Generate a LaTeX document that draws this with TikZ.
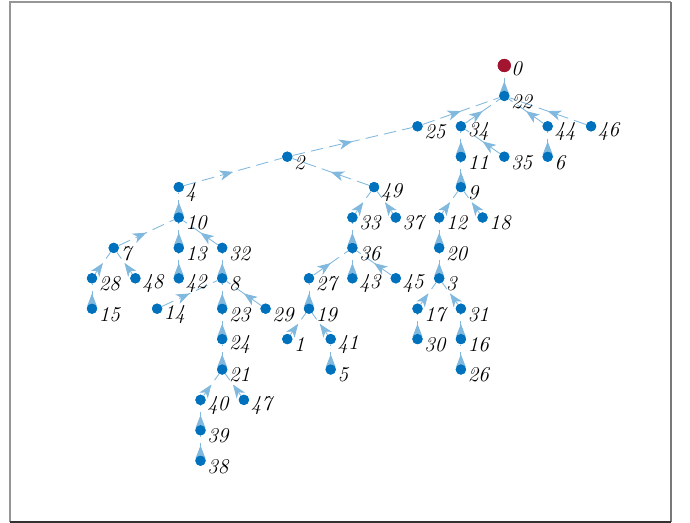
\documentclass[tikz,border=0pt]{standalone}
\usetikzlibrary{arrows.meta,decorations.markings}
\definecolor{nodeblue}{RGB}{0,114,189}
\definecolor{rootred}{RGB}{162,20,47}
\definecolor{edgeblue}{RGB}{128,184,222}
\definecolor{framegray}{RGB}{150,150,150}
\definecolor{framedark}{RGB}{50,50,50}
\tikzset{
  vtx/.style={circle,fill=nodeblue,inner sep=0pt,minimum size=6.6pt},
  rootvtx/.style={circle,fill=rootred,inner sep=0pt,minimum size=8.4pt},
  numlbl/.style={anchor=west,inner sep=0pt,font=\fontsize{13.5}{15}\selectfont\itshape},
  tedge/.style={draw=edgeblue,line width=0.55pt,dash pattern=on 8pt off 4pt,
    postaction={decorate},
    decoration={markings,mark=at position 0.5 with {\arrow[edgeblue]{Stealth[length=8.5pt,width=6.5pt,inset=2.4pt]}}}}
}
\begin{document}
\begin{tikzpicture}[x=13.888pt,y=-19.456pt]
\useasboundingbox (-4.2396,-2.1546) rectangle (27.558,15.049);
% frame
\draw[framegray,line width=0.7pt] (-3.779,15.016) -- (-3.779,-2.089) -- (26.682,-2.089);
\draw[framegray!80!black,line width=1.2pt] (26.682,-2.089) -- (26.682,15.016);
\draw[framedark,line width=1.2pt] (-3.779,15.016) -- (26.682,15.016);
% nodes
\node[rootvtx] (n0) at (19,0) {};
\foreach \n/\c/\l in {22/19/1,25/15/2,34/17/2,44/21/2,46/23/2,11/17/3,35/19/3,6/21/3,
  9/17/4,12/16/5,18/18/5,20/16/6,3/16/7,17/15/8,31/17/8,30/15/9,16/17/9,26/17/10,
  2/9/3,4/4/4,49/13/4,33/12/5,37/14/5,36/12/6,27/10/7,43/12/7,45/14/7,19/10/8,
  1/9/9,41/11/9,5/11/10,10/4/5,7/1/6,13/4/6,32/6/6,28/0/7,48/2/7,15/0/8,42/4/7,
  8/6/7,14/3/8,23/6/8,29/8/8,24/6/9,21/6/10,40/5/11,47/7/11,39/5/12,38/5/13}
{
  \node[vtx] (n\n) at (\c,\l) {};
}
% edges child -> parent
\foreach \a/\b in {22/0,25/22,34/22,44/22,46/22,11/34,35/34,6/44,9/11,12/9,18/9,20/12,
  3/20,17/3,31/3,30/17,16/31,26/16,2/25,4/2,49/2,33/49,37/49,36/33,27/36,43/36,45/36,
  19/27,1/19,41/19,5/41,10/4,7/10,13/10,32/10,28/7,48/7,15/28,42/13,8/32,14/8,23/8,
  29/8,24/23,21/24,40/21,47/21,39/40,38/39}
{
  \path[tedge] (n\a) -- (n\b);
}
% redraw nodes on top
\node[rootvtx] at (n0) {};
\node[numlbl] (t0) at ([xshift=4.3pt,yshift=-2.3pt]n0.center) {0};
\foreach \n in {22,25,34,44,46,11,35,6,9,12,18,20,3,17,31,30,16,26,2,4,49,33,37,36,27,
  43,45,19,1,41,5,10,7,13,32,28,48,15,42,8,14,23,29,24,21,40,47,39,38}
{
  \node[vtx] at (n\n) {};
  \node[numlbl] (t\n) at ([xshift=4.2pt,yshift=-3.6pt]n\n.center) {\n};
}
\end{tikzpicture}
\end{document}
